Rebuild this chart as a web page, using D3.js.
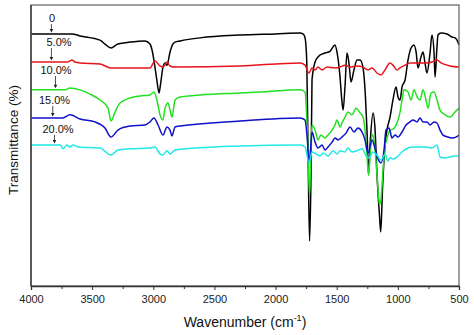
<!DOCTYPE html>
<html>
<head>
<meta charset="utf-8">
<script src="https://cdn.jsdelivr.net/npm/d3@7"></script>
<style>
  body { margin: 0; background: #fff; }
  text { font-family: Arial, "Liberation Sans", sans-serif; }
</style>
</head>
<body>
<div id="chart"></div>
<script>
// FTIR spectra, [wavenumber (cm-1), transmittance (a.u.)]
let spec0 = [[4000,89.7],[3800,89.7],[3665,89.7],[3600,89.0],[3436,87.5],[3395,86.1],[3346,84.7],[3290,86.1],[3190,86.8],[3068,87.2],[3027,86.1],[3010,84.0],[2990,79.0],[2970,73.0],[2953,68.7],[2940,72.0],[2921,77.9],[2904,79.4],[2888,78.6],[2863,83.3],[2840,86.1],[2822,86.8],[2781,87.2],[2618,88.3],[2291,89.3],[2000,89.7],[1800,90.0],[1776,89.7],[1760,88.5],[1745,80.0],[1735,50.0],[1722,16.0],[1710,40.0],[1702,73.3],[1677,79.7],[1653,81.5],[1637,82.2],[1620,82.5],[1596,82.9],[1555,83.5],[1530,85.1],[1514,85.8],[1498,83.3],[1473,74.4],[1460,67.0],[1448,62.6],[1432,71.2],[1416,82.9],[1400,79.4],[1383,72.6],[1359,76.9],[1334,80.4],[1309,80.4],[1285,77.6],[1265,67.3],[1252,55.0],[1240,39.5],[1225,52.0],[1203,61.6],[1187,56.0],[1171,40.0],[1150,25.0],[1140,19.2],[1125,35.0],[1105,50.0],[1089,55.5],[1064,60.1],[1040,66.2],[1015,70.8],[999,67.3],[982,66.2],[966,70.8],[941,73.3],[917,80.4],[892,84.7],[868,85.8],[851,83.3],[835,77.6],[811,81.5],[794,83.3],[778,79.4],[762,75.8],[737,82.9],[721,89.3],[704,82.9],[696,74.4],[680,85.1],[672,89.3],[647,90.0],[598,89.7],[557,88.6],[532,88.3],[516,87.5],[500,85.8]];

let spec5 = [[4000,79.7],[3700,79.7],[3681,80.1],[3665,80.4],[3640,79.7],[3600,79.4],[3436,79.0],[3346,77.6],[3190,77.6],[3027,77.6],[2986,80.1],[2945,78.3],[2921,77.9],[2888,79.7],[2863,78.3],[2822,77.9],[2291,78.3],[1800,79.4],[1759,78.6],[1727,75.8],[1702,77.6],[1677,76.9],[1653,77.9],[1620,76.9],[1579,77.9],[1514,77.6],[1473,77.9],[1432,78.6],[1391,77.9],[1334,78.3],[1285,77.9],[1244,76.9],[1211,77.6],[1171,75.8],[1138,75.1],[1105,76.9],[1064,79.4],[1040,78.6],[1007,76.9],[982,77.6],[941,78.6],[901,79.4],[819,79.4],[762,79.4],[721,79.7],[680,80.4],[647,79.4],[573,78.3],[500,77.9]];

let spec10 = [[4000,69.8],[3720,69.8],[3681,70.5],[3599,69.8],[3517,68.3],[3436,66.2],[3370,63.3],[3346,58.7],[3313,61.9],[3272,65.1],[3190,66.9],[3109,67.6],[3027,68.0],[2994,69.0],[2970,66.2],[2945,60.9],[2921,59.1],[2904,63.3],[2880,65.1],[2863,62.6],[2847,60.1],[2822,66.2],[2781,67.3],[2291,68.7],[2127,69.0],[1800,69.8],[1776,69.5],[1759,69.0],[1740,55.0],[1722,32.0],[1710,50.0],[1702,57.3],[1677,55.5],[1653,52.0],[1630,53.7],[1596,52.7],[1571,53.7],[1538,55.5],[1514,57.3],[1498,59.1],[1473,56.6],[1457,58.0],[1432,60.1],[1408,61.9],[1375,60.9],[1342,63.3],[1309,61.6],[1285,60.1],[1269,55.5],[1255,48.0],[1240,39.5],[1225,48.0],[1211,54.0],[1195,52.0],[1171,40.0],[1150,29.0],[1138,31.0],[1120,42.0],[1105,50.0],[1097,51.2],[1064,55.5],[1040,55.8],[1007,58.0],[982,61.9],[966,66.2],[950,69.8],[917,69.0],[892,66.2],[868,69.8],[843,67.3],[819,66.2],[794,69.8],[770,66.2],[753,63.3],[729,68.7],[704,69.0],[680,66.2],[655,62.6],[614,60.9],[573,60.1],[532,61.9],[500,63.3]];

let spec15 = [[4000,59.8],[3740,59.8],[3681,60.9],[3599,59.4],[3477,58.4],[3395,56.2],[3346,53.0],[3289,55.5],[3190,56.9],[3068,57.3],[3027,58.4],[2994,59.8],[2961,57.3],[2921,53.7],[2888,56.6],[2863,55.5],[2847,53.4],[2822,56.6],[2781,56.9],[2291,58.7],[1800,59.8],[1760,59.1],[1740,52.0],[1727,43.8],[1715,48.0],[1702,54.8],[1677,51.2],[1653,49.1],[1620,50.2],[1596,48.4],[1571,49.5],[1538,51.2],[1514,52.7],[1489,52.0],[1457,53.0],[1424,54.4],[1391,56.6],[1359,54.8],[1326,56.2],[1293,54.8],[1269,52.0],[1244,47.3],[1211,52.0],[1187,49.0],[1160,45.0],[1138,43.8],[1113,48.4],[1097,55.5],[1072,56.2],[1048,52.7],[1023,53.7],[999,53.0],[966,54.8],[933,57.3],[901,58.4],[876,59.1],[843,58.4],[819,59.8],[794,58.4],[762,58.4],[737,57.3],[704,58.4],[680,58.0],[655,55.5],[631,53.7],[590,53.0],[557,52.7],[524,53.0],[500,53.7]];

let spec20 = [[4000,50.2],[3760,50.2],[3738,48.8],[3706,50.2],[3681,49.5],[3657,50.2],[3616,49.5],[3436,49.1],[3346,46.6],[3289,48.4],[3190,48.8],[3027,49.1],[2986,49.5],[2945,47.0],[2921,46.6],[2888,48.1],[2863,47.0],[2822,48.4],[2291,49.8],[1800,50.2],[1759,49.5],[1727,43.8],[1702,47.7],[1669,47.0],[1637,46.3],[1610,47.3],[1571,46.3],[1530,48.1],[1498,47.0],[1473,48.1],[1432,47.7],[1408,49.1],[1375,47.7],[1334,48.1],[1293,48.8],[1260,46.3],[1236,45.6],[1203,47.7],[1171,46.6],[1138,44.8],[1105,47.0],[1081,44.5],[1064,45.6],[1040,45.2],[1007,45.9],[966,47.7],[917,49.1],[876,49.5],[819,49.5],[770,49.5],[721,49.1],[680,50.2],[655,45.9],[614,45.6],[573,45.9],[532,46.3],[500,46.3]];

let seriesNames = ["0", "5.0%", "10.0%", "15.0%", "20.0%"];
let seriesData = [spec0, spec5, spec10, spec15, spec20];
let seriesColors = ["#000000", "#e8141c", "#22e022", "#1010c8", "#22e8e8"];
let xTicks = [4000, 3500, 3000, 2500, 2000, 1500, 1000, 500];

let svgWidth = 474;
let svgHeight = 335;
let margin = { top: 5, right: 15, bottom: 49, left: 31 };
let width = svgWidth - margin.left - margin.right;
let height = svgHeight - margin.top - margin.bottom;

let svg = d3.select("#chart")
  .append("svg")
  .attr("width", svgWidth)
  .attr("height", svgHeight);

let chartGroup = svg.append("g")
  .attr("transform", `translate(${margin.left}, ${margin.top})`);

// wavenumber runs high to low, left to right
let xScale = d3.scaleLinear().domain([4000, 500]).range([0, width]);
let yScale = d3.scaleLinear().domain([0, 100]).range([height, 0]);

// spectra
let line = d3.line()
  .x(d => xScale(d[0]))
  .y(d => yScale(d[1]))
  .curve(d3.curveMonotoneX);

chartGroup.selectAll(".spec")
  .data(seriesData)
  .enter()
  .append("path")
  .attr("class", "spec")
  .attr("d", line)
  .attr("fill", "none")
  .attr("stroke", (d, i) => seriesColors[i])
  .attr("stroke-width", 1.5)
  .attr("stroke-linejoin", "round");

// frame
chartGroup.append("rect")
  .attr("width", width)
  .attr("height", height)
  .attr("fill", "none")
  .attr("stroke", "#6e6e6e")
  .attr("stroke-width", 1.3);

chartGroup.append("line")
  .attr("x1", 0).attr("x2", 0)
  .attr("y1", 0).attr("y2", height)
  .attr("stroke", "#333")
  .attr("stroke-width", 1.3);

// bottom axis: labelled major ticks plus minor ticks in between
let xAxis = chartGroup.append("g")
  .attr("transform", `translate(0, ${height})`)
  .call(d3.axisBottom(xScale).tickValues(xTicks).tickSize(4).tickPadding(5).tickFormat(d3.format("d")));

chartGroup.append("g")
  .attr("transform", `translate(0, ${height})`)
  .call(d3.axisBottom(xScale).tickValues(d3.range(3750, 500, -500)).tickSize(3).tickFormat(""))
  .call(g => g.select(".domain").remove());

svg.selectAll(".tick line").attr("stroke", "#333");
xAxis.select(".domain").attr("stroke", "#333").attr("stroke-width", 1.3);
xAxis.selectAll("text")
  .attr("font-size", "11px")
  .attr("fill", "#222");

// axis titles
let xTitle = svg.append("text")
  .attr("x", margin.left + width / 2)
  .attr("y", 327)
  .attr("text-anchor", "middle")
  .attr("font-size", "14px")
  .attr("fill", "#111");
xTitle.append("tspan").text("Wavenumber (cm");
xTitle.append("tspan").attr("dy", -6).attr("font-size", "9px").text("-1");
xTitle.append("tspan").attr("dy", 6).text(")");

svg.append("text")
  .attr("transform", "rotate(-90)")
  .attr("x", -140)
  .attr("y", 18)
  .attr("text-anchor", "middle")
  .attr("font-size", "13.5px")
  .attr("fill", "#111")
  .text("Transmittance (%)");

// series labels with arrows pointing down to each spectrum
let labelX = [52, 59, 56, 54.5, 58];
let labelBase = [22, 46, 74, 104, 133];
let arrowWn = [3833, 3833, 3800, 3822, 3808];

let labels = chartGroup.selectAll(".lbl")
  .data(seriesNames)
  .enter()
  .append("g")
  .attr("class", "lbl");

labels.append("text")
  .attr("x", (d, i) => labelX[i] - margin.left)
  .attr("y", (d, i) => labelBase[i] - margin.top)
  .attr("text-anchor", "middle")
  .attr("font-size", "11px")
  .attr("fill", "#111")
  .text(d => d);

labels.append("line")
  .attr("x1", (d, i) => xScale(arrowWn[i]))
  .attr("x2", (d, i) => xScale(arrowWn[i]))
  .attr("y1", (d, i) => labelBase[i] - margin.top + 2)
  .attr("y2", (d, i) => yScale(seriesData[i][0][1]) - 4)
  .attr("stroke", "#222")
  .attr("stroke-width", 0.8);

labels.append("path")
  .attr("d", (d, i) => {
    let ax = xScale(arrowWn[i]);
    let ay = yScale(seriesData[i][0][1]) - 1.5;
    return `M${ax - 1.8},${ay - 3.5}L${ax + 1.8},${ay - 3.5}L${ax},${ay}Z`;
  })
  .attr("fill", "#222");
</script>
</body>
</html>
